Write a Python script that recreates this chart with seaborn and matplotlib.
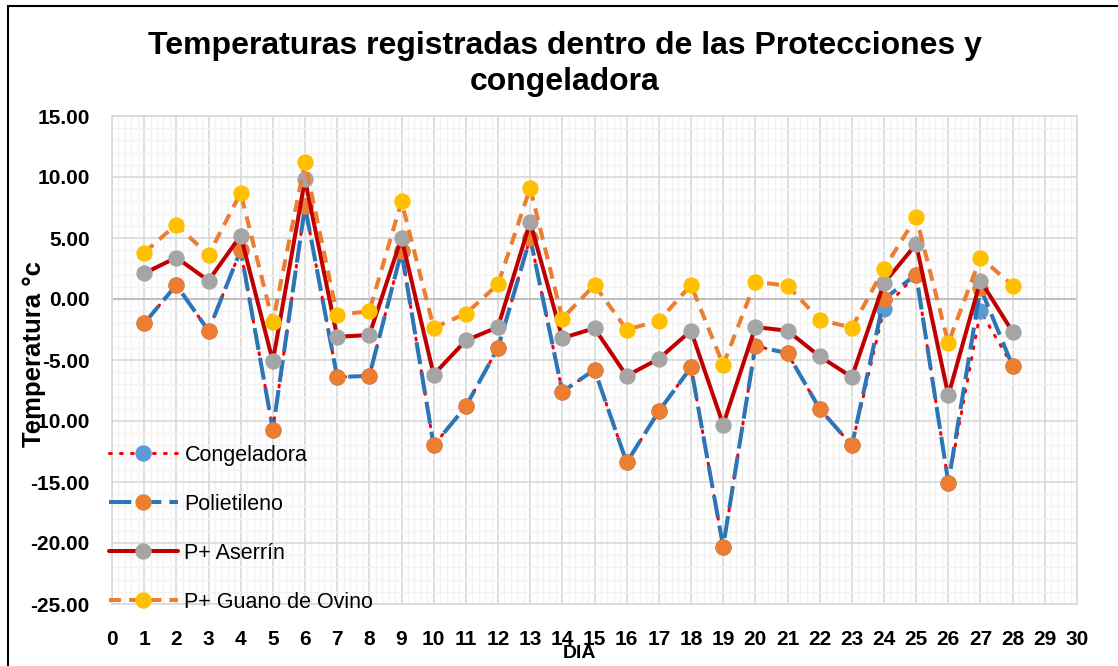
import matplotlib
matplotlib.use("Agg")
import numpy as np
import seaborn as sns
import matplotlib.pyplot as plt
from matplotlib.ticker import MultipleLocator, FormatStrFormatter
from matplotlib.patches import Rectangle

dias = list(range(1, 29))
congeladora = [-2.0, 1.15, -2.6, 4.0, -10.7, 7.6, -6.4, -6.3, 3.9, -12.0,
               -8.8, -4.0, 5.0, -7.6, -5.8, -13.4, -9.2, -5.6, -20.3, -3.85,
               -4.45, -9.0, -12.0, -0.8, 2.0, -15.05, -1.0, -5.5]
polietileno = [-2.0, 1.15, -2.6, 4.0, -10.7, 7.6, -6.4, -6.3, 3.9, -12.0,
               -8.8, -4.0, 5.0, -7.6, -5.8, -13.4, -9.2, -5.6, -20.3, -3.85,
               -4.45, -9.0, -12.0, 0.0, 2.0, -15.05, 0.9, -5.5]
aserrin = [2.1, 3.4, 1.5, 5.2, -5.1, 9.8, -3.1, -2.95, 5.0, -6.2,
           -3.4, -2.3, 6.3, -3.2, -2.4, -6.3, -4.9, -2.6, -10.3, -2.3,
           -2.6, -4.7, -6.4, 1.3, 4.5, -7.9, 1.5, -2.7]
guano = [3.8, 6.1, 3.6, 8.7, -1.9, 11.2, -1.3, -1.0, 8.0, -2.35,
         -1.2, 1.2, 9.1, -1.6, 1.15, -2.5, -1.8, 1.15, -5.4, 1.4,
         1.1, -1.7, -2.35, 2.5, 6.7, -3.6, 3.4, 1.1]

sns.set_style("white")
plt.rcParams['font.family'] = ['Liberation Sans', 'DejaVu Sans']
plt.rcParams['axes.unicode_minus'] = False
plt.rcParams['text.color'] = 'black'
plt.rcParams['axes.labelcolor'] = 'black'
plt.rcParams['xtick.color'] = 'black'
plt.rcParams['ytick.color'] = 'black'

fig = plt.figure(figsize=(11.18, 6.66), dpi=100)
ax = fig.add_axes([112 / 1118, 1 - 604 / 666, (1077 - 112) / 1118, (604 - 116) / 666])

ms = 11
sns.lineplot(x=dias, y=congeladora, ax=ax, color="#FF0000", lw=2.2,
             linestyle=(0, (0.6, 3)), dash_capstyle="round",
             marker="o", markersize=ms, markerfacecolor="#5B9BD5",
             markeredgecolor="#5B9BD5", label="Congeladora")
sns.lineplot(x=dias, y=polietileno, ax=ax, color="#2E75B6", lw=2.9,
             linestyle=(0, (5.5, 2)),
             marker="o", markersize=ms, markerfacecolor="#ED7D31",
             markeredgecolor="#ED7D31", label="Polietileno")
sns.lineplot(x=dias, y=aserrin, ax=ax, color="#C00000", lw=2.9,
             linestyle="-",
             marker="o", markersize=ms, markerfacecolor="#A5A5A5",
             markeredgecolor="#A5A5A5", label="P+ Aserrín")
sns.lineplot(x=dias, y=guano, ax=ax, color="#ED7D31", lw=2.9,
             linestyle=(0, (3, 2)),
             marker="o", markersize=ms, markerfacecolor="#FFC000",
             markeredgecolor="#FFC000", label="P+ Guano de Ovino")

ax.set_xlim(0, 30)
ax.set_ylim(-25, 15)
ax.xaxis.set_major_locator(MultipleLocator(1))
ax.xaxis.set_minor_locator(MultipleLocator(0.2))
ax.yaxis.set_major_locator(MultipleLocator(5))
ax.yaxis.set_minor_locator(MultipleLocator(1))
ax.yaxis.set_major_formatter(FormatStrFormatter('%.2f'))

ax.grid(which="major", color="#D9D9D9", lw=1.2)
ax.grid(which="minor", color="#F2F2F2", lw=1.0)
ax.set_axisbelow(True)
ax.axhline(0, color="#BFBFBF", lw=1.5, zorder=1)
for s in ax.spines.values():
    s.set_color("#D9D9D9")
    s.set_linewidth(1.2)

ax.tick_params(which="both", length=0)
ax.tick_params(axis="y", pad=16, labelsize=15)
ax.tick_params(axis="x", pad=19, labelsize=15)
for lab in ax.get_xticklabels() + ax.get_yticklabels():
    lab.set_fontweight("bold")

ax.set_xlabel("DIA", fontsize=14, fontweight="bold")
ax.set_ylabel("Temperatura °c", fontsize=18.5, fontweight="bold")
ax.xaxis.set_label_coords((580 - 112) / 965, -(645 - 604) / 488)
ax.yaxis.set_label_coords((46 - 112) / 965, (604 - 354) / 488)

leg = ax.legend(loc="upper left", bbox_to_anchor=(-0.012, 0.344), frameon=False,
                fontsize=15.5, handlelength=3.2, labelspacing=1.3,
                handletextpad=0.3, borderaxespad=0, numpoints=1)

fig.text(565 / 1118, 1 - 46 / 666, "Temperaturas registradas dentro de las Protecciones y",
         ha="center", va="center", fontsize=23, fontweight="bold")
fig.text(565 / 1118, 1 - 82 / 666, "congeladora",
         ha="center", va="center", fontsize=23, fontweight="bold")

fig.patches.append(Rectangle((8 / 1118, -0.05), 1.2, 1.05 - 6 / 666,
                             transform=fig.transFigure, fill=False,
                             edgecolor="black", lw=1.5))

fig.savefig("out.png", dpi=100)
plt.close()
